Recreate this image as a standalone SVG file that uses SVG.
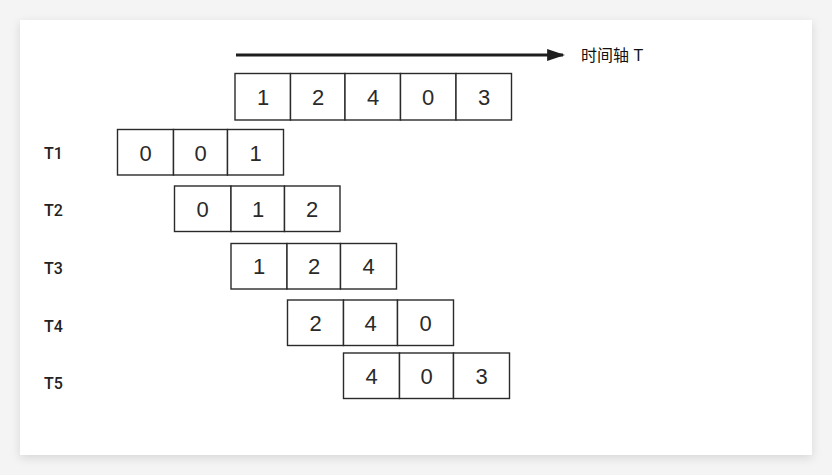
<svg xmlns="http://www.w3.org/2000/svg" width="832" height="475" viewBox="0 0 832 475">
  <defs>
    <filter id="shadow" x="-5%" y="-5%" width="110%" height="115%">
      <feDropShadow dx="0" dy="3" stdDeviation="5" flood-color="#000" flood-opacity="0.12"/>
    </filter>
    <marker id="arrow" markerWidth="6" markerHeight="4" refX="5.3" refY="2" orient="auto" markerUnits="strokeWidth">
      <path d="M0,0 L6,2 L0,4 Z" fill="#1e1e1e"/>
    </marker>
  </defs>
  <style>
    .cell { fill: #ffffff; stroke: #2a2a2a; stroke-width: 1.4; }
    .num { font-family: "Liberation Sans", Arial, sans-serif; font-size: 22px; fill: #2a2a2a; text-anchor: middle; dominant-baseline: central; }
    .lbl { font-family: Roboto, "Liberation Sans", Arial, sans-serif; font-size: 16px; font-weight: 500; fill: #222222; dominant-baseline: central; }
    .axis { font-family: "Liberation Sans", "Noto Sans CJK SC", sans-serif; font-size: 16px; font-weight: 400; fill: #111111; dominant-baseline: central; }
  </style>
  <rect x="0" y="0" width="832" height="475" fill="#f4f4f4"/>
  <rect x="20" y="20" width="792" height="435" fill="#ffffff" filter="url(#shadow)"/>

  <g id="connectors">
    <line x1="236" y1="55" x2="563" y2="55" stroke="#1e1e1e" stroke-width="3" marker-end="url(#arrow)"/>
  </g>
  <g id="axis-label">
    <text class="axis" x="581" y="55">时间轴 T</text>
  </g>

  <g id="row-top">
    <rect class="cell" x="235" y="73.5" width="55.5" height="46.5"/>
    <rect class="cell" x="290.5" y="73.5" width="54.5" height="46.5"/>
    <rect class="cell" x="345" y="73.5" width="55.5" height="46.5"/>
    <rect class="cell" x="400.5" y="73.5" width="55.5" height="46.5"/>
    <rect class="cell" x="456" y="73.5" width="55.5" height="46.5"/>
    <text class="num" x="263" y="97">1</text>
    <text class="num" x="318" y="97">2</text>
    <text class="num" x="373" y="97">4</text>
    <text class="num" x="428" y="97">0</text>
    <text class="num" x="484" y="97">3</text>
  </g>

  <g id="row-T1">
    <text class="lbl" x="44" y="153">T1</text>
    <rect class="cell" x="117.5" y="129.5" width="56" height="45.5"/>
    <rect class="cell" x="173.5" y="129.5" width="54" height="45.5"/>
    <rect class="cell" x="227.5" y="129.5" width="56" height="45.5"/>
    <text class="num" x="145.5" y="153">0</text>
    <text class="num" x="200.5" y="153">0</text>
    <text class="num" x="255.5" y="153">1</text>
  </g>

  <g id="row-T2">
    <text class="lbl" x="44" y="210">T2</text>
    <rect class="cell" x="174.5" y="186" width="56.5" height="45.5"/>
    <rect class="cell" x="231" y="186" width="53.5" height="45.5"/>
    <rect class="cell" x="284.5" y="186" width="55.5" height="45.5"/>
    <text class="num" x="202.5" y="209.5">0</text>
    <text class="num" x="258" y="209.5">1</text>
    <text class="num" x="312" y="209.5">2</text>
  </g>

  <g id="row-T3">
    <text class="lbl" x="44" y="268">T3</text>
    <rect class="cell" x="231" y="243.5" width="56" height="45.5"/>
    <rect class="cell" x="287" y="243.5" width="53.5" height="45.5"/>
    <rect class="cell" x="340.5" y="243.5" width="56" height="45.5"/>
    <text class="num" x="259" y="266.5">1</text>
    <text class="num" x="314" y="266.5">2</text>
    <text class="num" x="368.5" y="266.5">4</text>
  </g>

  <g id="row-T4">
    <text class="lbl" x="44" y="326">T4</text>
    <rect class="cell" x="287.5" y="300" width="56" height="45.5"/>
    <rect class="cell" x="343.5" y="300" width="54" height="45.5"/>
    <rect class="cell" x="397.5" y="300" width="56" height="45.5"/>
    <text class="num" x="315.5" y="323">2</text>
    <text class="num" x="370.5" y="323">4</text>
    <text class="num" x="425.5" y="323">0</text>
  </g>

  <g id="row-T5">
    <text class="lbl" x="44" y="383.5">T5</text>
    <rect class="cell" x="343.5" y="353" width="56" height="45.5"/>
    <rect class="cell" x="399.5" y="353" width="54" height="45.5"/>
    <rect class="cell" x="453.5" y="353" width="56" height="45.5"/>
    <text class="num" x="371.5" y="376">4</text>
    <text class="num" x="426.5" y="376">0</text>
    <text class="num" x="481.5" y="376">3</text>
  </g>
</svg>
